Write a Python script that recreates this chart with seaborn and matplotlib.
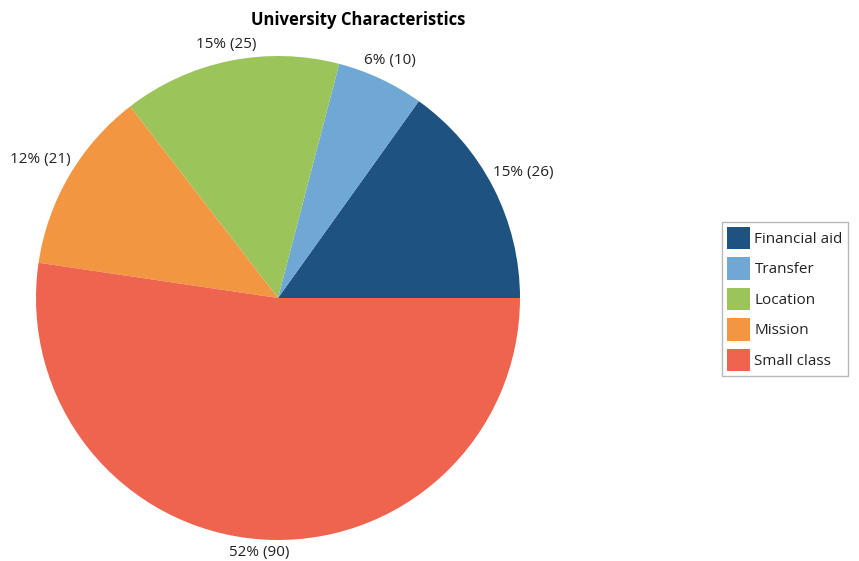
import numpy as np
import matplotlib
matplotlib.use("Agg")
import matplotlib.pyplot as plt
import seaborn as sns

categories = ["Financial aid", "Transfer", "Location", "Mission", "Small class"]
counts = [26, 10, 25, 21, 90]
colors = ["#1d5281", "#6fa7d5", "#9bc55a", "#f39641", "#ee644f"]
title = "University Characteristics"

sns.set_theme(style="white")
plt.rcParams["font.family"] = ["Open Sans", "DejaVu Sans"]

W, H = 859, 561
fig = plt.figure(figsize=(W / 100, H / 100), dpi=100)
fig.patch.set_facecolor("white")

# pie area: centre (278, 298) px, radius 242 px
cx, cy, r = 278, 298, 242
ax = fig.add_axes([(cx - r) / W, (H - cy - r) / H, 2 * r / W, 2 * r / H])
wedges, _ = ax.pie(counts, colors=colors, startangle=0, counterclock=True,
                   wedgeprops=dict(linewidth=0))
ax.set_xlim(-1, 1)
ax.set_ylim(-1, 1)
ax.axis("off")

total = sum(counts)
texts = []
for w, v in zip(wedges, counts):
    pct = 100 * v / total
    t = ax.text(0, 0, f"{pct:.0f}% ({v})", ha="center", va="center",
                fontsize=11, color="#222222")
    texts.append((w, t))

fig.canvas.draw()
renderer = fig.canvas.get_renderer()
gap = 3.0  # px between rim and label box
for w, t in texts:
    mid = np.deg2rad((w.theta1 + w.theta2) / 2)
    c, s = np.cos(mid), np.sin(mid)
    bb = t.get_window_extent(renderer)
    hw, hh = bb.width / 2, bb.height / 2
    d = (r + gap + abs(c) * hw + abs(s) * hh) / r
    t.set_position((d * c, d * s))

fig.text(358 / W, 1 - 20 / H, title, ha="center", va="center",
         fontsize=12, fontweight="bold", color="black")

leg = fig.legend(wedges, categories, loc="upper left",
                 bbox_to_anchor=(722 / W, 1 - 222 / H),
                 fontsize=11, frameon=True, fancybox=False, shadow=False,
                 handlelength=1.5, handleheight=1.85, handletextpad=0.3,
                 labelspacing=0.55, borderpad=0.32, borderaxespad=0)
leg.get_frame().set_edgecolor("#a6a6a6")
leg.get_frame().set_linewidth(1.0)
for txt in leg.get_texts():
    txt.set_color("#222222")

fig.savefig("out.png", dpi=100, facecolor="white")
